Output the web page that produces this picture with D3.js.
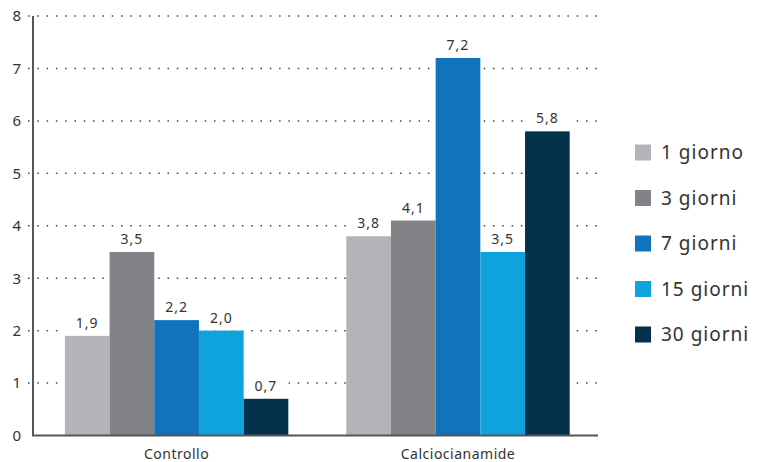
<!DOCTYPE html>
<html>
<head>
<meta charset="utf-8">
<script src="https://cdn.jsdelivr.net/npm/d3@7"></script>
<style>
    body { margin: 0; background: #fff; }
    svg text { font-family: "Noto Sans", sans-serif; fill: #333; }
</style>
</head>
<body>
<svg id="chart" width="765" height="462"></svg>
<script>
const CATEGORIES = ["Controllo", "Calciocianamide"];
const SERIES = ["1 giorno", "3 giorni", "7 giorni", "15 giorni", "30 giorni"];
const CONTROLLO_VALUES = [1.9, 3.5, 2.2, 2.0, 0.7];
const CALCIOCIANAMIDE_VALUES = [3.8, 4.1, 7.2, 3.5, 5.8];
const Y_TICKS = [0, 1, 2, 3, 4, 5, 6, 7, 8];
const COLORS = ["#b3b4b8", "#828387", "#1173bb", "#0ea3dd", "#04324b"];

const svg = d3.select("#chart");

const plotLeft = 33;
const plotRight = 598;
const plotTop = 16;
const plotBottom = 435.5;
const labelGap = 8;

// Scales
const yScale = d3.scaleLinear()
    .domain([0, 8])
    .range([plotBottom, plotTop]);

const xScale = d3.scaleBand()
    .domain(CATEGORIES)
    .range([plotLeft, plotRight])
    .paddingInner(0.206)
    .paddingOuter(0.107)
    .align(0.53);

const seriesScale = d3.scaleBand()
    .domain(SERIES)
    .range([0, xScale.bandwidth()]);

const colorScale = d3.scaleOrdinal()
    .domain(SERIES)
    .range(COLORS);

const valuesByCategory = new Map();
valuesByCategory.set("Controllo", CONTROLLO_VALUES);
valuesByCategory.set("Calciocianamide", CALCIOCIANAMIDE_VALUES);

const formatValue = (v) => d3.format(".1f")(v).replace(".", ",");

// Gridlines
svg.append("g")
    .selectAll("line")
    .data(Y_TICKS.filter((t) => t > 0))
    .enter().append("line")
    .attr("x1", 28)
    .attr("x2", plotRight)
    .attr("y1", (t) => yScale(t))
    .attr("y2", (t) => yScale(t))
    .attr("stroke", "#444")
    .attr("stroke-width", 1.5)
    .attr("stroke-dasharray", "1.5 7.8");

// Y tick labels
svg.append("g")
    .selectAll("text")
    .data(Y_TICKS)
    .enter().append("text")
    .attr("x", 21)
    .attr("y", (t) => yScale(t))
    .attr("dy", "0.36em")
    .attr("text-anchor", "end")
    .style("font-size", "15px")
    .text((t) => t);

// Bars
const data = CATEGORIES.flatMap((cat) => {
    return valuesByCategory.get(cat).map((value, i) => {
        return { "category": cat, "series": SERIES[i], "value": value };
    });
});

const barX = (d) => xScale(d.category) + seriesScale(d.series);

const bars = svg.append("g");

// White box behind each value label, down to the bar top
bars.selectAll(".label-bg")
    .data(data)
    .enter().append("rect")
    .classed("label-bg", true)
    .attr("x", barX)
    .attr("y", (d) => yScale(d.value) - labelGap - 12)
    .attr("width", seriesScale.bandwidth())
    .attr("height", labelGap + 12)
    .style("fill", "#fff");

bars.selectAll(".bar")
    .data(data)
    .enter().append("rect")
    .classed("bar", true)
    .attr("x", barX)
    .attr("y", (d) => yScale(d.value))
    .attr("width", seriesScale.bandwidth())
    .attr("height", (d) => yScale(0) - yScale(d.value))
    .style("fill", (d) => colorScale(d.series));

bars.selectAll("text")
    .data(data)
    .enter().append("text")
    .attr("x", (d) => barX(d) + seriesScale.bandwidth() / 2)
    .attr("y", (d) => yScale(d.value) - labelGap)
    .attr("text-anchor", "middle")
    .style("font-size", "14px")
    .style("letter-spacing", "1px")
    .text((d) => formatValue(d.value));

// Axis lines
svg.append("line")
    .attr("x1", plotLeft)
    .attr("x2", plotLeft)
    .attr("y1", plotTop)
    .attr("y2", plotBottom)
    .attr("stroke", "#555")
    .attr("stroke-width", 2);

svg.append("line")
    .attr("x1", plotLeft - 1)
    .attr("x2", plotRight)
    .attr("y1", plotBottom)
    .attr("y2", plotBottom)
    .attr("stroke", "#555")
    .attr("stroke-width", 2);

// Category labels
svg.append("g")
    .selectAll("text")
    .data(CATEGORIES)
    .enter().append("text")
    .attr("x", (c) => xScale(c) + xScale.bandwidth() / 2)
    .attr("y", 459)
    .attr("text-anchor", "middle")
    .style("font-size", "14px")
    .style("letter-spacing", "0.5px")
    .text((c) => c);

// Legend
const legend = svg.append("g")
    .selectAll("g")
    .data(SERIES)
    .enter().append("g")
    .attr("transform", (s, i) => "translate(635 " + (152.5 + i * 45.5) + ")");

legend.append("rect")
    .attr("x", 0)
    .attr("y", -8)
    .attr("width", 16)
    .attr("height", 16)
    .style("fill", (s) => colorScale(s));

legend.append("text")
    .attr("x", 26)
    .attr("y", 0)
    .attr("dy", "0.36em")
    .style("font-size", "19px")
    .style("letter-spacing", "1px")
    .text((s) => s);
</script>
</body>
</html>
